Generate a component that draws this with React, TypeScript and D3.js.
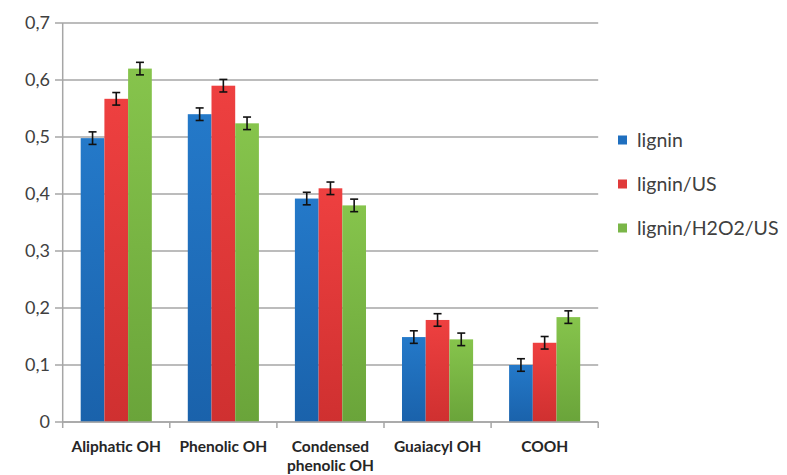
import React from "react";
import * as d3 from "d3";

const categories = ["Aliphatic OH", "Phenolic OH", "Condensed\nphenolic OH", "Guaiacyl OH", "COOH"];
const seriesNames = ["lignin", "lignin/US", "lignin/H2O2/US"];
const lignin = [0.498, 0.54, 0.392, 0.149, 0.1];
const ligninUS = [0.567, 0.59, 0.41, 0.179, 0.139];
const ligninH2O2US = [0.62, 0.524, 0.38, 0.145, 0.184];
const errors = [0.011, 0.011, 0.011, 0.011, 0.011];
const yTicks = [0, 0.1, 0.2, 0.3, 0.4, 0.5, 0.6, 0.7];

const seriesValues = [lignin, ligninUS, ligninH2O2US];
const colors = [
  ["#2479c9", "#1a62ab"],
  ["#ee4040", "#cf3030"],
  ["#86c44c", "#6aa43a"],
];
const legendColors = ["#1f6fbf", "#e03a3a", "#7ab648"];

export default function App() {
  const W = 787, H = 475;
  const left = 62.7, right = 598.2, top = 23, bottom = 422;
  const x0 = d3.scaleBand<string>().domain(categories).range([left, right]).paddingInner(0.336).paddingOuter(0.168);
  const x1 = d3.scaleBand<number>().domain([0, 1, 2]).range([0, x0.bandwidth()]);
  const y = d3.scaleLinear().domain([0, 0.7]).range([bottom, top]);
  const step = (right - left) / categories.length;
  const font = "Lato, 'Open Sans', sans-serif";

  return (
    <svg width={W} height={H} style={{ position: "absolute", left: 0, top: 0, background: "#fff" }} fontFamily={font}>
      <defs>
        {colors.map((c, i) => (
          <linearGradient key={i} id={`g${i}`} x1="0" y1="0" x2="0" y2="1">
            <stop offset="0" stopColor={c[0]} />
            <stop offset="1" stopColor={c[1]} />
          </linearGradient>
        ))}
      </defs>
      {yTicks.map((t) => (
        <g key={t}>
          <line x1={55} x2={right} y1={y(t)} y2={y(t)} stroke="#a6a6a6" strokeWidth={1.5} />
          <text x={50} y={y(t)} dy="0.36em" textAnchor="end" fontSize={18} fill="#404040">
            {d3.format(".1f")(t).replace(".", ",").replace(/^0,0$/, "0")}
          </text>
        </g>
      ))}
      <line x1={left} x2={left} y1={top} y2={bottom} stroke="#a6a6a6" strokeWidth={1.5} />
      {d3.range(categories.length + 1).map((i) => (
        <line key={i} x1={left + i * step} x2={left + i * step} y1={bottom} y2={bottom + 6} stroke="#a6a6a6" strokeWidth={1.5} />
      ))}
      {categories.map((c, ci) =>
        seriesValues.map((vals, si) => {
          const bx = (x0(c) as number) + (x1(si) as number);
          const bw = x1.bandwidth();
          const v = vals[ci];
          const cx = bx + bw / 2;
          const e = errors[ci];
          return (
            <g key={`${ci}-${si}`}>
              <rect x={bx} y={y(v)} width={bw} height={bottom - y(v)} fill={`url(#g${si})`} />
              <line x1={cx} x2={cx} y1={y(v + e)} y2={y(v - e)} stroke="#111" strokeWidth={1.6} />
              <line x1={cx - 4} x2={cx + 4} y1={y(v + e)} y2={y(v + e)} stroke="#111" strokeWidth={1.6} />
              <line x1={cx - 4} x2={cx + 4} y1={y(v - e)} y2={y(v - e)} stroke="#111" strokeWidth={1.6} />
            </g>
          );
        })
      )}
      <line x1={left} x2={right} y1={bottom} y2={bottom} stroke="#a6a6a6" strokeWidth={1.5} />
      {categories.map((c) => {
        const cx = (x0(c) as number) + x0.bandwidth() / 2;
        return (
          <text key={c} x={cx} y={452} textAnchor="middle" fontSize={15.5} fontWeight="bold" fill="#262626">
            {c.split("\n").map((line, i) => (
              <tspan key={i} x={cx} dy={i === 0 ? 0 : 19}>{line}</tspan>
            ))}
          </text>
        );
      })}
      {seriesNames.map((n, i) => {
        const cy = 140 + i * 44;
        return (
          <g key={n}>
            <rect x={618} y={cy - 4.5} width={9} height={9} fill={legendColors[i]} />
            <text x={637} y={cy} dy="0.36em" fontSize={19.5} fill="#404040">{n}</text>
          </g>
        );
      })}
    </svg>
  );
}
